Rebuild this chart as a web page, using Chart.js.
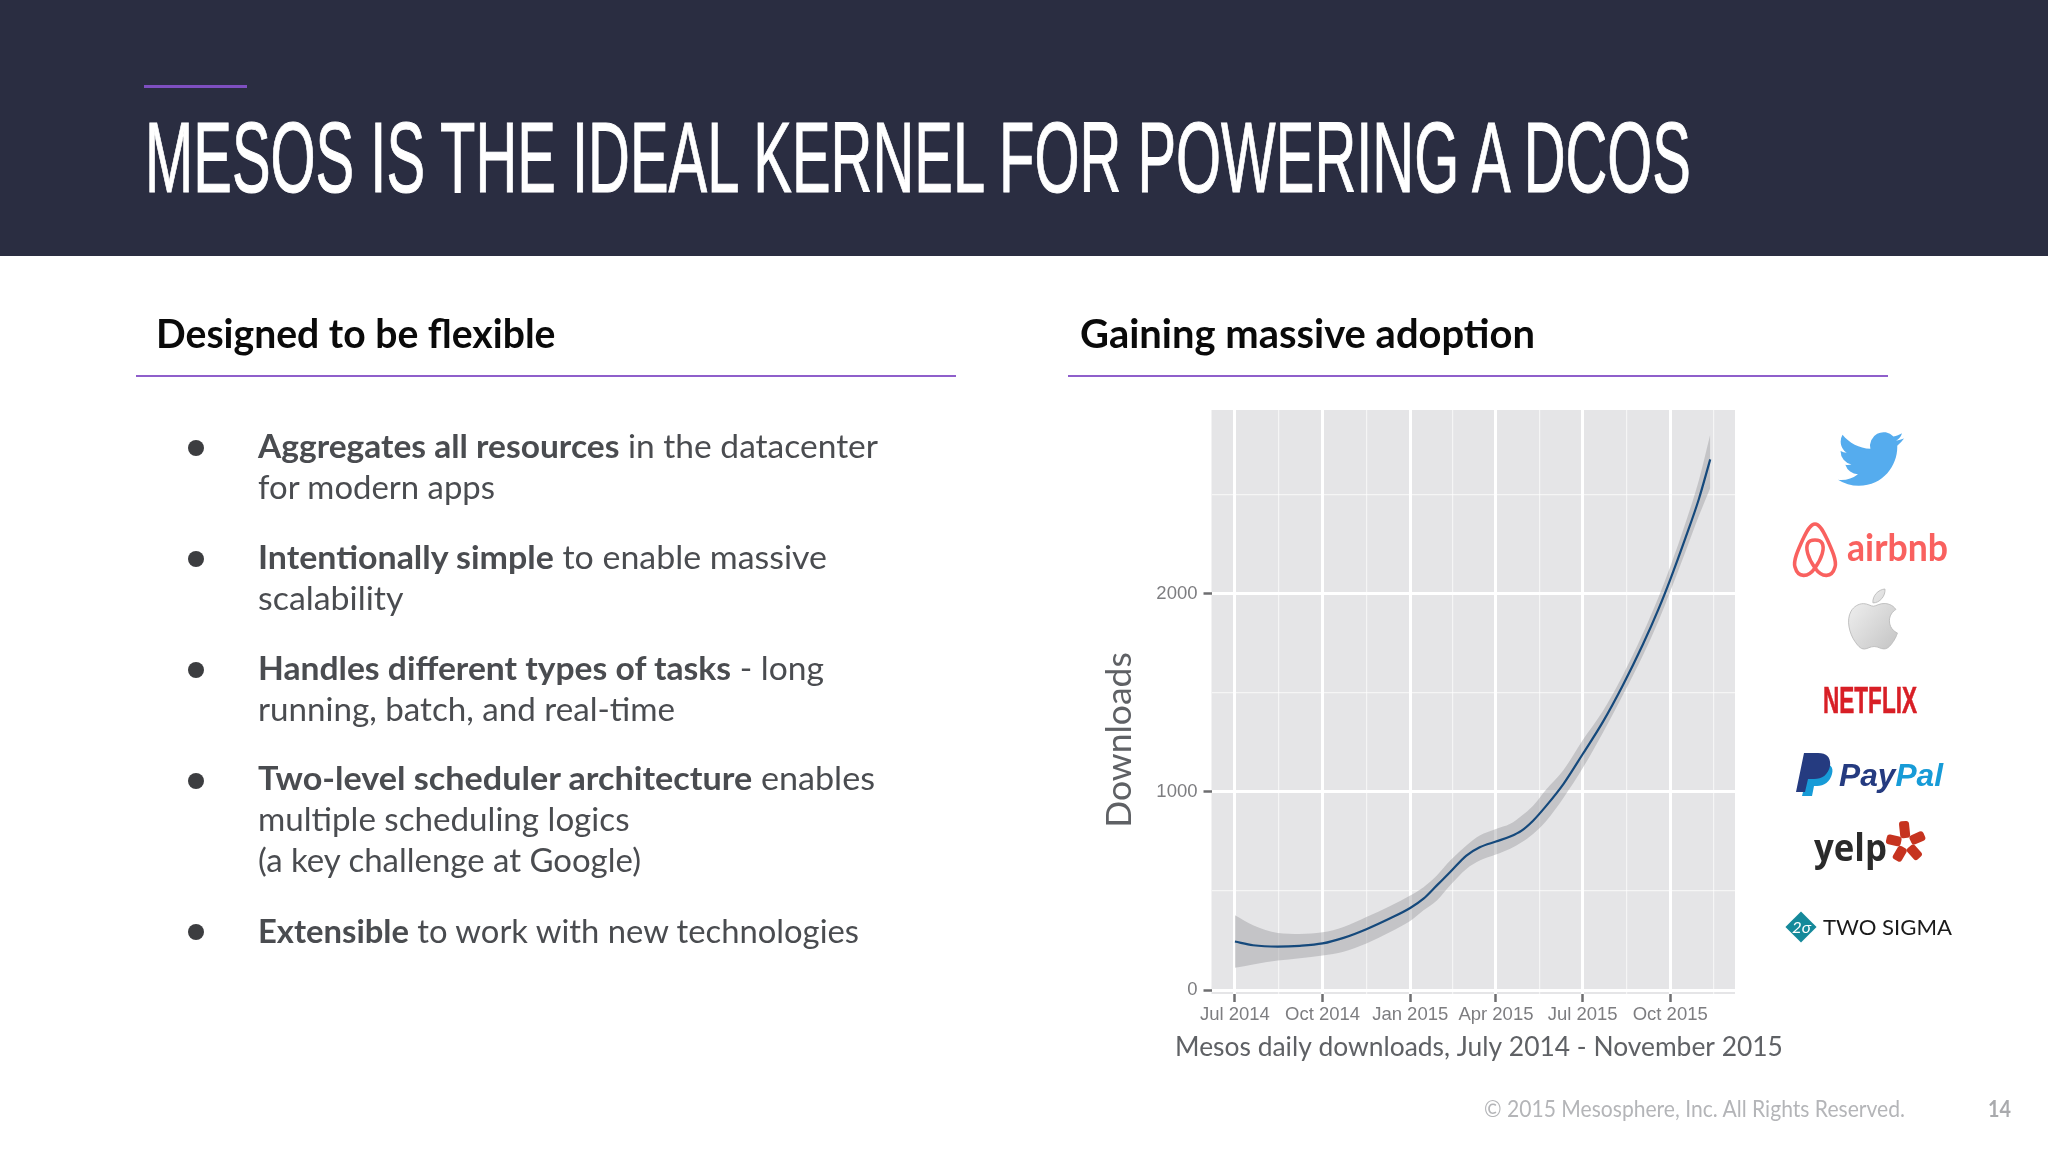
<!DOCTYPE html>
<html><head><meta charset="utf-8">
<style>
html,body{margin:0;padding:0;background:#fff;width:2048px;height:1152px;overflow:hidden}
#hdr{position:absolute;left:0;top:0;width:2048px;height:256px;background:#2a2d41}
.t{position:absolute;white-space:nowrap;transform-origin:0 50%;line-height:1.2}
.r{position:absolute;height:2.5px;background:#8f5fcb}
.b{position:absolute;width:16px;height:16px;border-radius:50%;background:#3c3d40}
#chartBox{position:absolute;left:1085px;top:410px;width:788px;height:660px}
svg{position:absolute;left:0;top:0}
</style>
<script src="https://cdn.jsdelivr.net/npm/chart.js@4/dist/chart.umd.min.js"></script>
</head><body>
<div id="hdr"></div>
<div class="r" style="left:144px;top:84.5px;width:103px;height:3px;background:#7e4fc0"></div>
<div class="r" style="left:136px;top:374.5px;width:820px"></div>
<div class="r" style="left:1068px;top:374.5px;width:820px"></div>
<div class="b" style="left:188px;top:440px"></div>
<div class="b" style="left:188px;top:551px"></div>
<div class="b" style="left:188px;top:662px"></div>
<div class="b" style="left:188px;top:773px"></div>
<div class="b" style="left:188px;top:924px"></div>
<div id="chartBox"><canvas id="c"></canvas></div>
<svg width="2048" height="1152" viewBox="0 0 2048 1152">
  <defs><linearGradient id="ap" x1="0" y1="0" x2="1" y2="1"><stop offset="0" stop-color="#f4f4f4"/><stop offset="1" stop-color="#c4c4c4"/></linearGradient></defs>
  <path transform="translate(1838,426) scale(2.75)" fill="#55acee" d="M23.953 4.57a10 10 0 01-2.825.775 4.958 4.958 0 002.163-2.723c-.951.555-2.005.959-3.127 1.184a4.92 4.92 0 00-8.384 4.482C7.69 8.095 4.067 6.13 1.64 3.162a4.822 4.822 0 00-.666 2.475c0 1.71.87 3.213 2.188 4.096a4.904 4.904 0 01-2.228-.616v.06a4.923 4.923 0 003.946 4.827 4.996 4.996 0 01-2.212.085 4.936 4.936 0 004.604 3.417 9.867 9.867 0 01-6.102 2.105c-.39 0-.779-.023-1.17-.067a13.995 13.995 0 007.557 2.209c9.053 0 13.998-7.496 13.998-13.985 0-.21 0-.42-.015-.63A9.935 9.935 0 0024 4.59z"/>
  <path fill="none" stroke="#f9615f" stroke-width="3.6" stroke-linejoin="round" d="M1815 524 C1810 524 1806 533 1803 539 C1798 550 1793 561 1795 567 C1798 578 1808 578 1815 568 C1822 558 1825 548 1822 543 C1820 539 1810 539 1808 543 C1805 548 1808 558 1815 568 C1822 578 1832 578 1835 567 C1837 561 1832 550 1827 539 C1824 533 1820 524 1815 524 Z"/>
  <path transform="translate(1843,589) scale(2.5)" fill="url(#ap)" stroke="#b9b9b9" stroke-width=".35" d="M12.152 6.896c-.948 0-2.415-1.078-3.96-1.04-2.04.027-3.91 1.183-4.961 3.014-2.117 3.675-.546 9.103 1.519 12.09 1.013 1.454 2.208 3.09 3.792 3.039 1.52-.065 2.09-.987 3.935-.987 1.831 0 2.35.987 3.96.948 1.637-.026 2.676-1.48 3.676-2.948 1.156-1.688 1.636-3.325 1.662-3.415-.039-.013-3.182-1.221-3.22-4.857-.026-3.04 2.48-4.494 2.597-4.559-1.429-2.09-3.623-2.324-4.39-2.376-2-.156-3.675 1.09-4.61 1.09zM15.53 3.83c.843-1.012 1.4-2.427 1.245-3.83-1.207.052-2.662.805-3.532 1.818-.78.896-1.454 2.338-1.273 3.714 1.338.104 2.715-.688 3.559-1.701"/>
  <path fill="#179bd7" d="M1810 763 h12 c8 0 12 4 10 11 c-2 8 -8 12 -15 12 h-3 l-2 10 h-10 Z"/>
  <path fill="#253b80" d="M1804 753 h14 c10 0 13 6 12 13 c-2 9 -8 13 -16 13 h-6 l-3 13 h-9 Z"/>
  <g fill="#c6331f">
    <rect x="1901" y="821" width="10" height="17" rx="3" transform="rotate(-6 1906 843)"/>
    <rect x="1901" y="823" width="10" height="15" rx="3" transform="rotate(66 1906 843)"/>
    <rect x="1901" y="823" width="10" height="15" rx="3" transform="rotate(138 1906 843)"/>
    <rect x="1901" y="823" width="10" height="15" rx="3" transform="rotate(210 1906 843)"/>
    <rect x="1901" y="823" width="10" height="15" rx="3" transform="rotate(282 1906 843)"/>
  </g>
  <rect x="1790" y="916" width="22" height="22" fill="#15899a" transform="rotate(45 1801 927)"/>
</svg>
<script>
// ---------- chart data ----------
const dayOffsets = [0,19,45,68,92,114,138,163,184,198,212,226,243,257,274,289,301,313,327,345,365,386,407,428,445,457,473,487,499];
const downloads  = [245,226,219,223,235,263,307,362,414,461,528,595,678,720,749,774,804,854,930,1040,1189,1350,1535,1740,1925,2070,2280,2475,2676];
const upperBand  = [377,327,288,283,291,318,368,424,477,519,578,653,729,779,812,838,879,930,1013,1110,1260,1405,1585,1795,1985,2135,2355,2570,2802];
const lowerBand  = [112,129,149,161,174,193,235,293,348,402,452,528,611,653,683,712,745,787,854,970,1118,1295,1485,1685,1865,2010,2210,2390,2532];
const xTickDays   = [0,92,184,274,365,457];
const xTickLabels = ['Jul 2014','Oct 2014','Jan 2015','Apr 2015','Jul 2015','Oct 2015'];
const xMinorDays  = [46,138,229,320,411,503];
const yMajorTicks = [0,1000,2000];
const yMinorTicks = [500,1500,2500];
const yTitle = 'Downloads';
const xTitle = 'Mesos daily downloads, July 2014 - November 2015';

const pts = a => a.map((v,i)=>({x:dayOffsets[i],y:v}));
const panelBg = {id:'panelBg',beforeDraw(ch){const a=ch.chartArea,c=ch.ctx;c.save();c.fillStyle='#e5e5e7';c.fillRect(a.left,a.top,a.width,a.height);c.restore();}};
const tickFont = {family:'"Liberation Sans"',size:18.5};
const noPad = s => {s.paddingTop=0;s.paddingBottom=0;s.paddingLeft=0;s.paddingRight=0;};
const gridCol = list => c => list.includes(c.tick&&c.tick.value)?'#ffffff':'rgba(255,255,255,0.6)';
const gridW   = list => c => list.includes(c.tick&&c.tick.value)?3:1.2;
const tickCol = list => c => list.includes(c.tick&&c.tick.value)?'#6e6e70':'rgba(0,0,0,0)';
new Chart(document.getElementById('c'),{
  type:'line',
  data:{datasets:[
    {label:'Downloads',data:pts(downloads),borderColor:'#15497c',borderWidth:2.2,pointRadius:0,cubicInterpolationMode:'monotone',fill:false},
    {label:'Upper',data:pts(upperBand),borderWidth:0,pointRadius:0,cubicInterpolationMode:'monotone',fill:'+1',backgroundColor:'rgba(150,150,155,0.42)'},
    {label:'Lower',data:pts(lowerBand),borderWidth:0,pointRadius:0,cubicInterpolationMode:'monotone',fill:false}
  ]},
  plugins:[panelBg],
  options:{
    responsive:true,maintainAspectRatio:false,animation:false,devicePixelRatio:1,
    layout:{padding:0,autoPadding:false},
    plugins:{
      legend:{display:false},tooltip:{enabled:false},
      title:{display:true,text:yTitle,position:'left',color:'#5f6165',font:{family:'Lato',size:35.5,weight:'400',lineHeight:1.2},padding:{top:13,bottom:0}},
      subtitle:{display:true,text:xTitle,position:'bottom',color:'#5f6165',font:{family:'Lato',size:26.4,weight:'400',lineHeight:1.2},padding:{top:0,bottom:7}}
    },
    scales:{
      x:{type:'linear',min:-24.6,max:525,border:{display:false},
        afterBuildTicks(s){s.ticks=[...xTickDays,...xMinorDays].sort((a,b)=>a-b).map(v=>({value:v}));},
        afterFit(s){s.height=37.3;noPad(s);},
        ticks:{autoSkip:false,maxRotation:0,padding:1.5,color:'#7d7d80',font:tickFont,callback:v=>{const i=xTickDays.indexOf(v);return i>=0?xTickLabels[i]:'';}},
        grid:{color:gridCol(xTickDays),tickLength:8,tickColor:tickCol(xTickDays),tickWidth:2.5,lineWidth:gridW(xTickDays)}},
      y:{type:'linear',min:-20,max:2925,border:{display:false},
        afterBuildTicks(s){s.ticks=[...yMajorTicks,...yMinorTicks].sort((a,b)=>a-b).map(v=>({value:v}));},
        afterFit(s){s.width=126.5-(13+35.5*1.2);noPad(s);},
        ticks:{autoSkip:false,padding:6,color:'#7d7d80',font:tickFont,callback:v=>yMajorTicks.includes(v)?String(v):''},
        grid:{color:gridCol(yMajorTicks),tickLength:8,tickColor:tickCol(yMajorTicks),tickWidth:2.5,lineWidth:gridW(yMajorTicks)}},
      y2:{type:'linear',position:'right',min:0,max:1,border:{display:false},grid:{display:false},ticks:{display:false},afterFit(s){s.width=138;noPad(s);}}
    }
  }
});

// ---------- page text: [html, left, right, baseline, font, colour, stroke] ----------
const S='Lato';
const lines=[
 ['MESOS IS THE IDEAL KERNEL FOR POWERING A DCOS',145,1691,192,'400 101px "Liberation Sans"','#ffffff',1],
 ['Designed to be flexible',155.5,555,348,'700 40px '+S,'#0a0a0a'],
 ['Gaining massive adoption',1080,1535,348,'700 40px '+S,'#0a0a0a'],
 ['<b>Aggregates all resources</b> in the datacenter',258,878,458,'400 33px '+S,'#4a4c50'],
 ['for modern apps',258,495,499,'400 33px '+S,'#4a4c50'],
 ['<b>Intentionally simple</b> to enable massive',258,827,569,'400 33px '+S,'#4a4c50'],
 ['scalability',258,403.5,610,'400 33px '+S,'#4a4c50'],
 ['<b>Handles different types of tasks</b> - long',258,824,680,'400 33px '+S,'#4a4c50'],
 ['running, batch, and real-time',258,675,721,'400 33px '+S,'#4a4c50'],
 ['<b>Two-level scheduler architecture</b> enables',258,875,790,'400 33px '+S,'#4a4c50'],
 ['multiple scheduling logics',258,629.5,831,'400 33px '+S,'#4a4c50'],
 ['(a key challenge at Google)',258,641,872,'400 33px '+S,'#4a4c50'],
 ['<b>Extensible</b> to work with new technologies',258,859,943,'400 33px '+S,'#4a4c50'],
 ['© 2015 Mesosphere, Inc. All Rights Reserved.',1484,1905,1117,'400 23px '+S,'#b4b5b8'],
 ['14',1988,2011,1117,'700 22px '+S,'#a9aaad'],
 ['airbnb',1847,1948,561,'700 38px '+S,'#f9615f'],
 ['NETFLIX',1823,1917,713,'700 37px "Liberation Sans"','#d81f26',.6],
 ['<span style="color:#253b80">Pay</span><span style="color:#179bd7">Pal</span>',1839,1943,786,'italic 700 32px "Liberation Sans"','#253b80'],
 ['yelp',1814,1887,861,'700 38px "Open Sans"','#2a2a2a'],
 ['TWO SIGMA',1823,1952,935,'400 21px Lato','#1a1a1a'],
 ['<span style="font-style:italic">2σ</span>',1792,1811,933,'400 15px Lato','#ffffff']
];
for(const [html,l,r,base,font,col,st] of lines){
  const e=document.createElement('div');e.className='t';e.innerHTML=html;e.style.font=font;e.style.lineHeight='1.2';e.style.color=col;e.style.left=l+'px';e.style.top='0px';
  if(st)e.style.webkitTextStroke=st+'px '+col;
  const m=document.createElement('span');m.style.cssText='display:inline-block;width:0;height:0';e.appendChild(m);
  document.body.appendChild(e);
  const w=e.getBoundingClientRect().width, bl=m.getBoundingClientRect().bottom;
  e.style.top=(base-bl)+'px';
  e.style.transform='scaleX('+((r-l)/w)+')';
}
</script>
</body></html>
